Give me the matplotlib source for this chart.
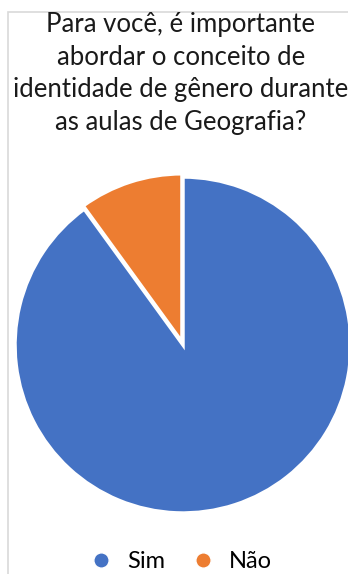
import matplotlib.pyplot as plt
from matplotlib.patches import Rectangle
from matplotlib.lines import Line2D

#chart data
labels = ['Sim', 'Não']
values = [90, 10]
colors = ['#4472C4', '#ED7D31']
title = 'Para você, é importante\nabordar o conceito de\nidentidade de gênero durante\nas aulas de Geografia?'

W, H = 348, 574
fig = plt.figure(figsize=(W / 100, H / 100), dpi=100)
plt.rcParams['font.family'] = ['Lato', 'DejaVu Sans']

#light gray chart border (cut at right and bottom)
fig.patches.append(Rectangle((8 / W, -0.1), 1.2, 1.1 - 12 / H, transform=fig.transFigure,
                             fill=False, edgecolor='#d9d9d9', linewidth=1.2))

fig.text(0.52, 1 - 12 / H, title, ha='center', va='top', fontsize=18.5,
         color='#1a1a1a', linespacing=1.38)

#pie: center ~ (183, 345), radius ~ 168 px
cx, cy, r = 183, 345, 168
ax = fig.add_axes([(cx - r) / W, 1 - (cy + r) / H, 2 * r / W, 2 * r / H])
ax.pie(values, colors=colors, startangle=90, counterclock=False,
       explode=[0, 0.02], wedgeprops=dict(edgecolor='white', linewidth=2.5))
ax.set_xlim(-1, 1)
ax.set_ylim(-1, 1)
ax.set_aspect('equal')

handles = [Line2D([], [], marker='o', linestyle='', markersize=11,
                  markerfacecolor=c, markeredgecolor='white') for c in colors]
fig.legend(handles, labels, loc='center', bbox_to_anchor=(0.515, 1 - 562 / H), ncol=2,
           frameon=False, fontsize=17, handletextpad=0.5, columnspacing=1.0,
           handlelength=1.2)

fig.savefig('out.png', dpi=100)
